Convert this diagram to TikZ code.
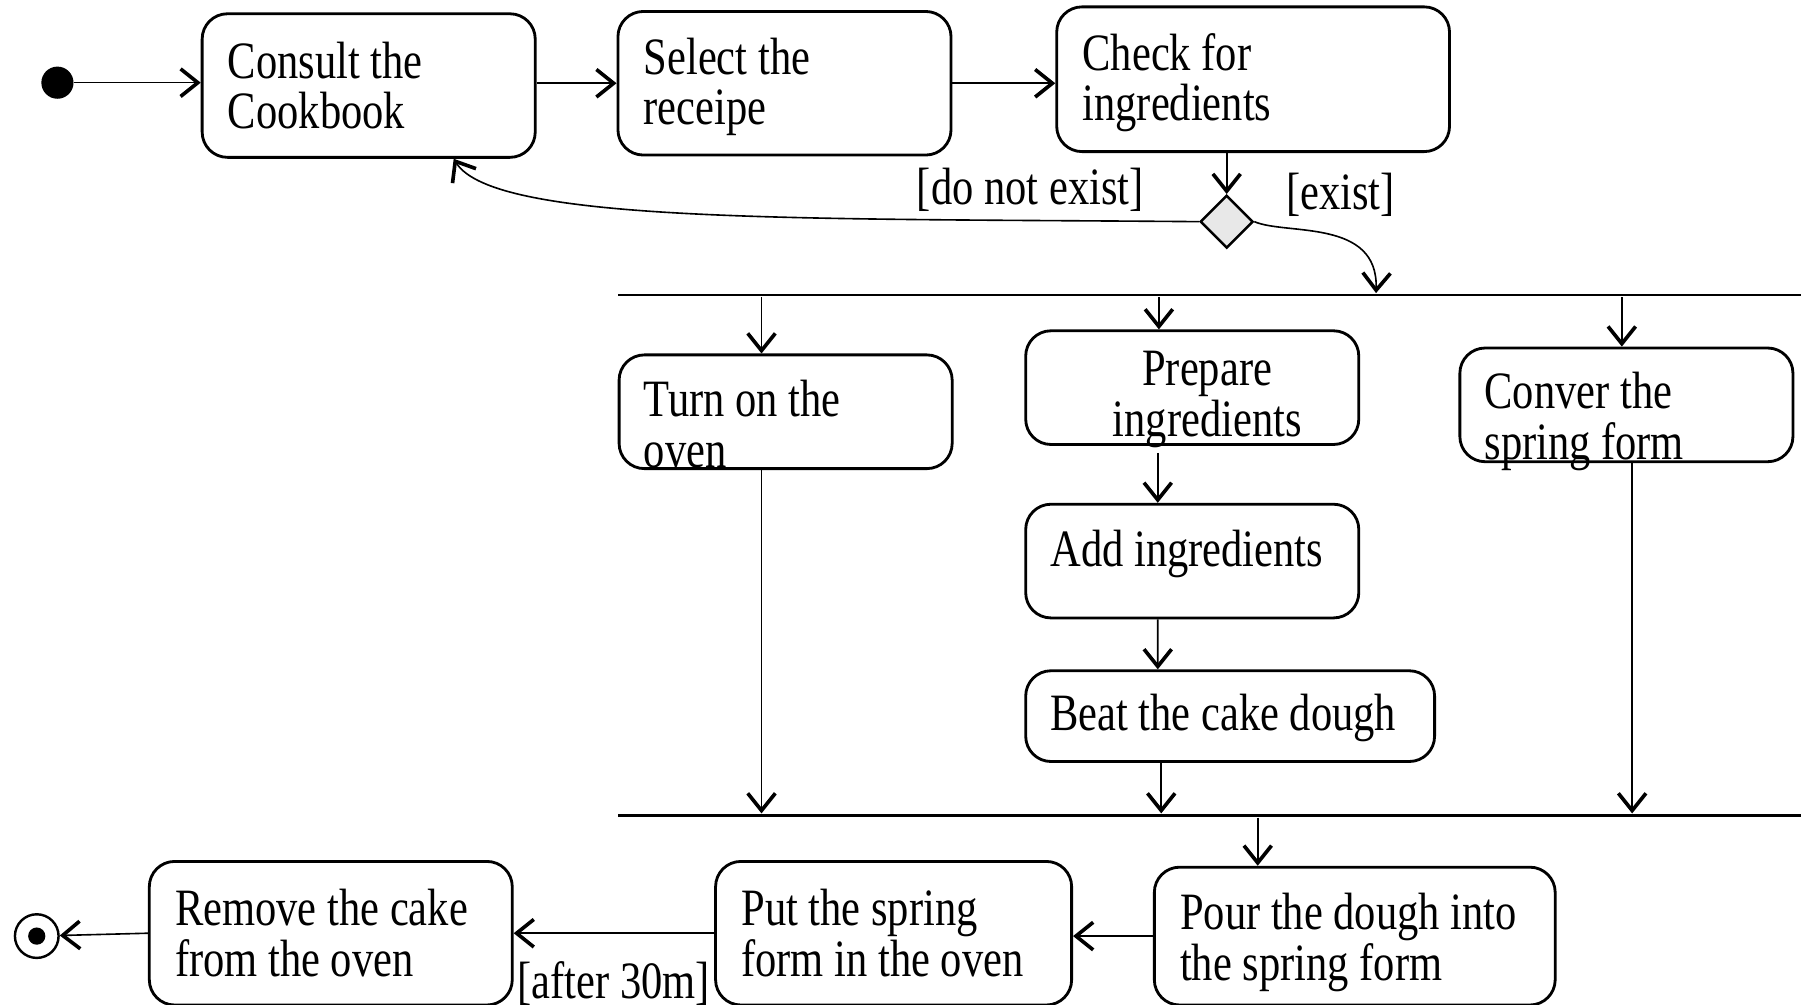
\documentclass[tikz,border=0pt]{standalone}
\usepackage{fontspec}
\setmainfont{Liberation Serif}[FakeStretch=0.81]
\usetikzlibrary{arrows.meta, positioning, shapes.geometric}

\begin{document}
\begin{tikzpicture}[
    x=0.1mm, y=-0.1mm,
    act/.style 2 args={draw, line width=0.7pt, rounded corners=2.2mm,
                       minimum width=#1, minimum height=#2, inner sep=0pt},
    txt/.style={inner sep=0pt, align=left, font=\fontsize{13pt}{12.5pt}\selectfont},
    flow/.style={-{Straight Barb[length=1.5mm, width=2.4mm, line width=0.9pt]}, line width=0.4pt},
    bar/.style={fill, inner sep=0pt, minimum width=103mm, minimum height=0.22mm},
    decision/.style={diamond, draw, fill=gray!18, line width=0.6pt,
                     minimum width=4.6mm, minimum height=4.6mm, inner sep=0pt},
    startdot/.style={circle, fill, minimum size=2.8mm, inner sep=0pt},
    enddot/.style={circle, draw, line width=0.6pt, minimum size=3.8mm, inner sep=0pt,
                   path picture={\fill (path picture bounding box.center) circle (0.75mm);}},
]
    \useasboundingbox (0,0) rectangle (1568,875);

    % Actions
    \node[act={29mm}{12.5mm}] (consult) at (321,74.5) {};
    \node[txt, right=2.3mm of consult.west] (consult-t) {Consult the\\Cookbook};
    \node[act={29mm}{12.5mm}] (select) at (683,72.5) {};
    \node[txt, right=2.3mm of select.west, yshift=-0.3mm] (select-t) {Select the\\receipe};
    \node[act={34.2mm}{12.6mm}] (check) at (1091,69) {};
    \node[txt, right=2.3mm of check.west, yshift=-0.3mm] (check-t) {Check for\\ingredients};

    \node[act={29mm}{9.9mm}] (oven) at (684,358.5) {};
    \node[txt, right=2.2mm of oven.west, yshift=-1.05mm] (oven-t) {Turn on the\\oven};
    \node[act={29mm}{9.9mm}] (prep) at (1038,337.5) {};
    \node[txt, align=center, xshift=1.3mm, yshift=-1.05mm] (prep-t) at (prep) {Prepare\\ingredients};
    \node[act={29mm}{9.9mm}] (conver) at (1416,352.5) {};
    \node[txt, right=2.2mm of conver.west, yshift=-1.45mm] (conver-t) {Conver the\\spring form};
    \node[act={29mm}{9.9mm}] (add) at (1038,488.5) {};
    \node[txt, right=2.2mm of add.west, yshift=0.65mm] (add-t) {Add ingredients};
    \node[act={35.6mm}{7.9mm}] (beat) at (1071,623.5) {};
    \node[txt, right=2.2mm of beat.west, yshift=-0.15mm] (beat-t) {Beat the cake dough};

    \node[act={31.6mm}{12.5mm}] (remove) at (288,812.5) {};
    \node[txt, right=2.3mm of remove.west] (remove-t) {Remove the cake\\from the oven};
    \node[act={31mm}{12.5mm}] (put) at (778,812.5) {};
    \node[txt, right=2.3mm of put.west] (put-t) {Put the spring\\form in the oven};
    \node[act={34.9mm}{12mm}] (pour) at (1179.5,815) {};
    \node[txt, right=2.3mm of pour.west, yshift=-0.55mm] (pour-t) {Pour the dough into\\the spring form};

    % Control nodes
    \node[startdot] (start) at (50,72) {};
    \node[enddot] (end) at (32,815) {};
    \node[decision] (dec) at (1068,193) {};
    \node[bar] (fork1) at (1053,257) {};
    \node[bar] (fork2) at (1053,710) {};

    % Guards
    \node[txt] (dne) at ([shift={(-17.1mm,2.8mm)}]dec) {[do not exist]};
    \node[txt] (ex) at ([shift={(9.9mm,2.3mm)}]dec) {[exist]};

    % Branch points
    \coordinate (o1) at ([xshift=-2.1mm]oven.north);
    \coordinate (p1) at ([xshift=-2.9mm]prep.north);
    \coordinate (c1) at ([xshift=-0.4mm]conver.north);
    \coordinate (c2) at ([xshift=0.5mm]conver.south);
    \coordinate (b1) at ([xshift=-6mm]beat.south);
    \coordinate (u1) at ([xshift=-8.45mm]pour.north);

    % Transitions
    \draw[flow] (start) -- (start -| consult.west);
    \draw[flow] (select.west -| consult.east) -- (select.west);
    \draw[flow] (select.east) -- (select.east -| check.west);
    \draw[flow] (dec.north |- check.south) -- (dec.north);
    \draw[flow] (dec.west) .. controls (700,190) and (430,195) .. ([xshift=7.4mm]consult.south);
    \draw[flow] (dec.east) .. controls (1120,205) and (1200,190) .. ([xshift=14.5mm]fork1.north);

    % Fork
    \draw[flow] (o1 |- fork1.south) -- (o1);
    \draw[flow] (p1 |- fork1.south) -- (p1);
    \draw[flow] (c1 |- fork1.south) -- (c1);
    \draw[flow] ([xshift=-3mm, yshift=-0.6mm]prep.south) -- ([xshift=-3mm]add.north);
    \draw[flow] ([xshift=-3mm]add.south) -- ([xshift=-6.3mm]beat.north);

    % Join
    \draw[flow] (o1 |- oven.south) -- (o1 |- fork2.north);
    \draw[flow] (b1) -- (b1 |- fork2.north);
    \draw[flow] (c2) -- (c2 |- fork2.north);
    \draw[flow] (u1 |- fork2.south) -- (u1);

    % Bottom row
    \draw[flow] (pour.west) -- (pour.west -| put.east);
    \draw[flow] (put.west) -- node[txt, below=2.4mm] (wait) {[after 30m]} (remove.east);
    \draw[flow] (remove.west) -- (end);
\end{tikzpicture}
\end{document}
